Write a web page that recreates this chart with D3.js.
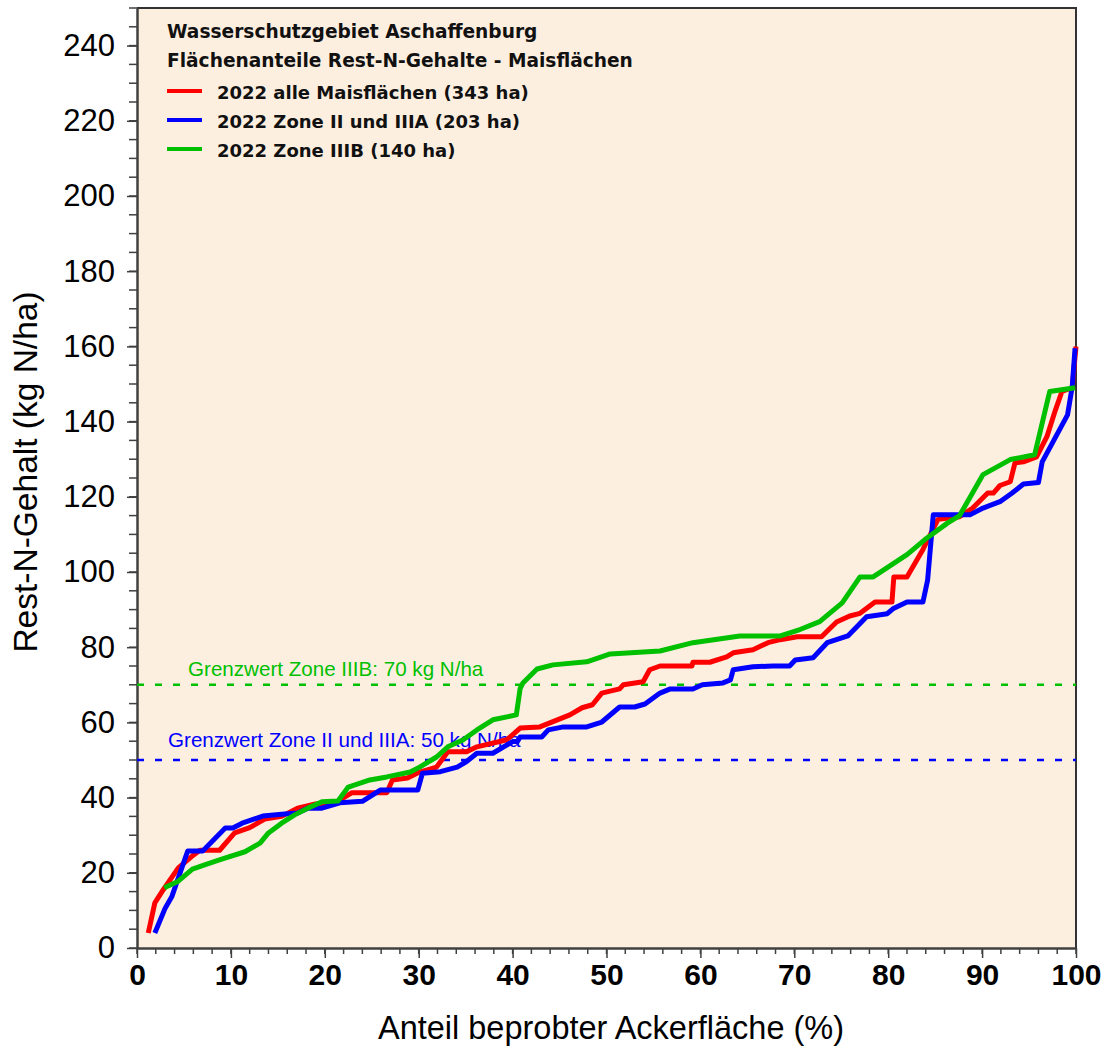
<!DOCTYPE html>
<html>
<head>
<meta charset="utf-8">
<script src="https://cdn.jsdelivr.net/npm/d3@7/dist/d3.min.js"></script>
<style>
  html, body { margin: 0; padding: 0; background: #ffffff; }
  svg { display: block; font-family: "Liberation Sans", Arial, sans-serif; }
</style>
</head>
<body>
<svg id="chart" width="1109" height="1048"></svg>
<script>
// Cumulative share of sampled maize area (%) vs. residual nitrogen (kg N/ha)
const allShare = [1.2, 1.9, 2.8, 4.4, 6.0, 6.7, 8.8, 10.4, 12.0, 13.6, 15.4, 17.1, 19.0, 21.1, 22.9, 26.6, 27.2, 28.8, 30.1, 31.9, 33.1, 35.1, 36.2, 39.4, 40.8, 42.9, 46.1, 47.4, 48.5, 49.5, 51.4, 51.8, 53.9, 54.6, 55.7, 59.1, 59.2, 61.0, 62.8, 63.5, 65.6, 67.2, 68.5, 70.3, 72.9, 74.5, 75.9, 77.0, 78.6, 80.4, 80.6, 82.0, 83.7, 85.3, 87.6, 89.0, 90.6, 91.2, 91.9, 93.0, 93.5, 94.4, 95.8, 96.9, 97.8, 98.5, 99.6, 100];
const allN     = [4, 12, 15.5, 21.3, 24.7, 26, 26, 30.6, 32, 34.3, 35, 37.2, 38.3, 38.6, 41.3, 41.3, 44.7, 45.2, 46.8, 48.1, 52.2, 52.2, 53.5, 55.4, 58.5, 58.8, 62, 63.9, 64.7, 67.8, 68.9, 70, 70.8, 74, 75, 75, 76, 76, 77.4, 78.5, 79.3, 81.2, 82, 82.8, 82.8, 86.7, 88.3, 89, 92, 92, 98.7, 98.7, 106, 114, 114.7, 117, 121, 121, 123, 124, 129, 129.3, 130.6, 136, 143, 148, 149, 160];

const zoneAShare = [1.9, 3.0, 3.7, 5.4, 7.0, 9.4, 10.2, 11.2, 13.4, 15.4, 17.1, 18.2, 19.7, 21.6, 24.0, 25.9, 29.9, 30.4, 32.3, 34.1, 35.1, 36.2, 37.9, 40.0, 40.5, 40.8, 43.1, 43.8, 45.4, 47.9, 49.5, 51.4, 53.0, 54.1, 55.7, 56.8, 59.2, 60.2, 62.4, 63.2, 63.5, 65.6, 67.7, 69.5, 70.1, 72.0, 73.5, 75.7, 77.7, 79.9, 80.5, 82.0, 83.7, 84.2, 84.8, 88.7, 90.1, 91.9, 93.2, 94.4, 96.0, 96.4, 99.1, 99.6, 99.9];
const zoneAN     = [4, 10.6, 13.6, 25.8, 25.8, 31.9, 31.9, 33.2, 35.1, 35.6, 35.9, 37.2, 37.2, 38.6, 39, 42, 42, 46.5, 46.9, 48.1, 49.6, 51.8, 51.8, 54.9, 54.9, 56.1, 56.1, 58, 58.8, 58.8, 60.1, 64.1, 64.1, 64.9, 67.8, 68.9, 68.9, 70, 70.5, 71.3, 74, 74.8, 75, 75, 76.6, 77.2, 81.2, 83, 88.1, 88.9, 90.2, 92, 92, 97.9, 115.2, 115.2, 117, 118.7, 121, 123.4, 123.8, 129.3, 141.8, 149.3, 159.5];

const zoneBShare = [2.9, 4.3, 5.9, 7.2, 9.1, 11.5, 13.1, 14.0, 15.4, 16.8, 18.2, 19.7, 21.4, 22.5, 24.8, 26.6, 29.1, 30.1, 31.9, 33.1, 34.7, 36.2, 37.9, 40.4, 40.8, 41.1, 42.6, 44.3, 47.9, 50.4, 55.7, 59.2, 64.2, 68.5, 70.6, 72.7, 75.1, 77.0, 78.4, 82.0, 84.1, 86.3, 87.6, 90.1, 93.0, 95.6, 97.2, 99.9];
const zoneBN     = [16, 17.6, 21, 22.1, 23.7, 25.6, 27.9, 30.6, 33.2, 35.4, 37.2, 38.9, 39.1, 42.8, 44.7, 45.5, 46.8, 48.1, 50.8, 53.5, 55.3, 58, 60.7, 62, 69, 70.5, 74.2, 75.3, 76.1, 78.2, 79, 81.2, 83, 83, 84.7, 86.8, 91.8, 98.7, 98.7, 104.6, 109, 113, 115, 125.9, 129.9, 131.2, 148, 149];

const seriesNames  = ["2022 alle Maisflächen (343 ha)", "2022 Zone II und IIIA (203 ha)", "2022 Zone IIIB (140 ha)"];
const seriesColors = ["#ff0000", "#0000ff", "#00c000"];

const limitValues = [70, 50];
const limitLabels = ["Grenzwert Zone IIIB: 70 kg N/ha", "Grenzwert Zone II und IIIA: 50 kg N/ha"];
const limitColors = ["#00c000", "#0000ff"];

const titleLines = ["Wasserschutzgebiet Aschaffenburg", "Flächenanteile Rest-N-Gehalte - Maisflächen"];
const xTicks = [0, 10, 20, 30, 40, 50, 60, 70, 80, 90, 100];
const yTicks = [0, 20, 40, 60, 80, 100, 120, 140, 160, 180, 200, 220, 240];

const svg = d3.select("#chart");
const plotLeft = 137, plotTop = 8, plotRight = 1076, plotBottom = 948;
const legendFont = "'DejaVu Sans', Verdana, sans-serif";

const x = d3.scaleLinear().domain([0, 100]).range([plotLeft, plotRight]);
const y = d3.scaleLinear().domain([0, 250]).range([plotBottom, plotTop]);

// plot background
svg.append("rect")
  .attr("x", plotLeft).attr("y", plotTop)
  .attr("width", plotRight - plotLeft).attr("height", plotBottom - plotTop)
  .attr("fill", "#fdefe0");

// frame (top / right)
svg.append("path")
  .attr("d", `M${plotLeft},${plotTop}H${plotRight}V${plotBottom}`)
  .attr("fill", "none").attr("stroke", "#333").attr("stroke-width", 2);

// minor ticks
const gMinor = svg.append("g").attr("stroke", "#404040").attr("stroke-width", 1.5);
d3.range(0, 251, 5).forEach(v => {
  gMinor.append("line").attr("x1", plotLeft - 8).attr("x2", plotLeft).attr("y1", y(v)).attr("y2", y(v));
});
d3.range(0, 101, 2).forEach(v => {
  gMinor.append("line").attr("x1", x(v)).attr("x2", x(v)).attr("y1", plotBottom).attr("y2", plotBottom + 6);
});

// axes
const xAxis = svg.append("g")
  .attr("transform", `translate(0,${plotBottom})`)
  .call(d3.axisBottom(x).tickValues(xTicks).tickSize(10).tickPadding(6).tickSizeOuter(0));
xAxis.selectAll("text")
  .attr("font-size", 30).attr("font-weight", "bold").attr("fill", "#000")
  .attr("font-family", "'Liberation Sans', Arial, sans-serif");

const yAxis = svg.append("g")
  .attr("transform", `translate(${plotLeft},0)`)
  .call(d3.axisLeft(y).tickValues(yTicks).tickSize(10).tickPadding(12).tickSizeOuter(0));
yAxis.selectAll("text")
  .attr("font-size", 31).attr("fill", "#000")
  .attr("font-family", "'Liberation Sans', Arial, sans-serif");

[xAxis, yAxis].forEach(g => {
  g.select(".domain").attr("stroke", "#404040").attr("stroke-width", 2.5);
  g.selectAll(".tick line").attr("stroke", "#404040").attr("stroke-width", 1.5);
});

// axis titles
svg.append("text")
  .attr("x", 611).attr("y", 1039)
  .attr("text-anchor", "middle")
  .attr("font-size", 32.5).attr("fill", "#000")
  .text("Anteil beprobter Ackerfläche (%)");

svg.append("text")
  .attr("transform", "translate(37,472) rotate(-90)")
  .attr("text-anchor", "middle")
  .attr("font-size", 33.5).attr("fill", "#000")
  .text("Rest-N-Gehalt (kg N/ha)");

// limit lines
limitValues.forEach((v, i) => {
  svg.append("line")
    .attr("x1", plotLeft).attr("x2", plotRight)
    .attr("y1", y(v)).attr("y2", y(v))
    .attr("stroke", limitColors[i]).attr("stroke-width", 2.5)
    .attr("stroke-dasharray", "7,11");
});
svg.append("text")
  .attr("x", 188).attr("y", y(limitValues[0]) - 9)
  .attr("font-size", 20.6).attr("fill", limitColors[0])
  .text(limitLabels[0]);
svg.append("text")
  .attr("x", 168).attr("y", y(limitValues[1]) - 13)
  .attr("font-size", 20.6).attr("fill", limitColors[1])
  .text(limitLabels[1]);

// curves
const line = d3.line().x(d => x(d[0])).y(d => y(d[1]));
const seriesData = [
  d3.zip(allShare, allN),
  d3.zip(zoneAShare, zoneAN),
  d3.zip(zoneBShare, zoneBN)
];
seriesData.forEach((data, i) => {
  svg.append("path")
    .datum(data)
    .attr("d", line)
    .attr("fill", "none")
    .attr("stroke", seriesColors[i])
    .attr("stroke-width", 5)
    .attr("stroke-linejoin", "round")
    .attr("stroke-linecap", "butt");
});

// legend
titleLines.forEach((t, i) => {
  svg.append("text")
    .attr("x", 167).attr("y", 38 + i * 29)
    .attr("font-family", legendFont)
    .attr("font-size", 18.6).attr("font-weight", "bold").attr("fill", "#111")
    .text(t);
});
seriesNames.forEach((name, i) => {
  const yy = 91 + i * 29;
  svg.append("line")
    .attr("x1", 167).attr("x2", 202)
    .attr("y1", yy).attr("y2", yy)
    .attr("stroke", seriesColors[i]).attr("stroke-width", 4);
  svg.append("text")
    .attr("x", 217).attr("y", yy + 8)
    .attr("font-family", legendFont)
    .attr("font-size", 18).attr("font-weight", "bold").attr("fill", "#111")
    .text(name);
});
</script>
</body>
</html>
